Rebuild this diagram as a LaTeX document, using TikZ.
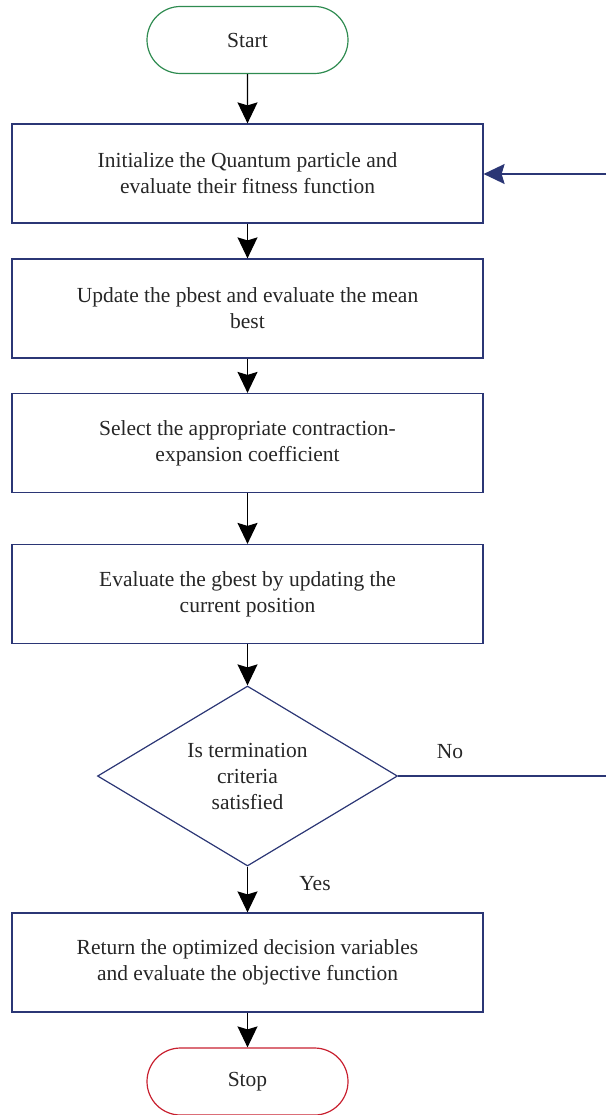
\documentclass[tikz,border=0pt]{standalone}
\usepackage{fontspec}
\setmainfont{Liberation Serif}
\usetikzlibrary{arrows.meta,shapes.geometric,shapes.misc}
\definecolor{navy}{HTML}{2B3675}
\definecolor{sgreen}{HTML}{2E8B50}
\definecolor{sred}{HTML}{C8202F}
\begin{document}
\begin{tikzpicture}[x=1pt,y=-1pt,
  txt/.style={font=\fontsize{21.5}{26}\selectfont, text=black!85, align=center},
  procbox/.style={txt, draw=navy, line width=1.2pt, minimum width=471pt, minimum height=99pt, inner sep=0pt},
  term/.style={txt, rounded rectangle, line width=1.2pt, minimum width=201pt, minimum height=67pt, inner sep=0pt},
  decis/.style={txt, diamond, draw=navy, line width=1.2pt, minimum width=300pt, minimum height=180pt, inner sep=0pt, aspect=1.6667},
  flow/.style={draw=black, line width=1.2pt, -{Stealth[width=20pt,length=21pt,inset=3pt]}},
  back/.style={draw=navy, line width=1.3pt},
  backarr/.style={draw=navy, line width=1.3pt, -{Stealth[width=20pt,length=21pt,inset=3pt]}}
]
\useasboundingbox (0,0) rectangle (606,1115);
\node[term, draw=sgreen] (start) at (247.5,40) {Start};
\node[procbox] (b1) at (247.5,173.5) {Initialize the Quantum particle and\\evaluate their fitness function};
\node[procbox] (b2) at (247.5,308.5) {Update the pbest and evaluate the mean\\best};
\node[procbox] (b3) at (247.5,443) {Select the appropriate contraction-\\expansion coefficient};
\node[procbox] (b4) at (247.5,594) {Evaluate the gbest by updating the\\current position};
\node[decis, draw=navy] (d) at (247.5,776) {Is termination\\criteria\\satisfied};
\node[procbox] (b5) at (247.5,962.5) {Return the optimized decision variables\\and evaluate the objective function};
\node[term, draw=sred] (stop) at (247.5,1081.5) {Stop};
\coordinate (r1) at (606,776);
\coordinate (r2) at (606,174);
\draw[flow] (start) -- (b1);
\draw[flow] (b1) -- (b2);
\draw[flow] (b2) -- (b3);
\draw[flow] (b3) -- (b4);
\draw[flow] (b4) -- (d);
\draw[flow] (d) -- (b5);
\draw[flow] (b5) -- (stop);
\draw[back] (d.east) -- (r1);
\draw[backarr] (r2) -- (b1.east |- r2);
\node[txt] (no) at (450,752) {No};
\node[txt] (yes) at (315,884) {Yes};
\end{tikzpicture}
\end{document}
